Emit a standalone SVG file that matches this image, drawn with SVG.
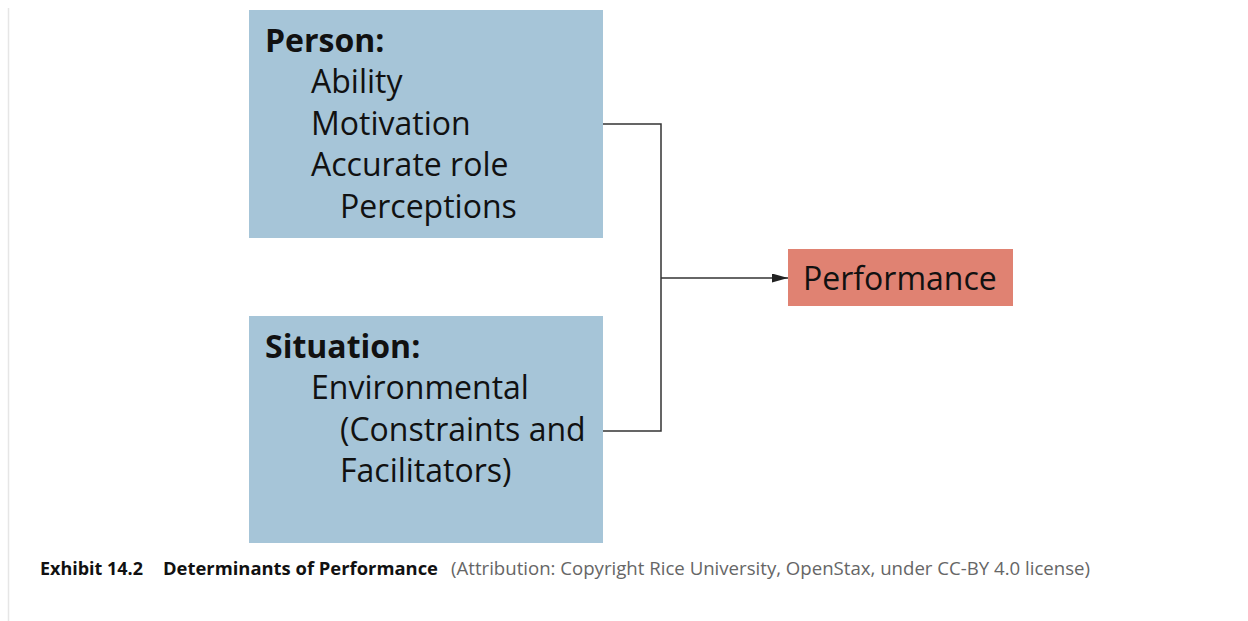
<svg xmlns="http://www.w3.org/2000/svg" width="1248" height="621" viewBox="0 0 1248 621">
<style>
.box{fill:#a6c5d8}
.perf{fill:#e08272}
.t{font-family:"Open Sans","Noto Sans",sans-serif;font-size:32px;fill:#111}
.b{font-weight:bold}
.cap{font-family:"Open Sans","Noto Sans",sans-serif;font-size:18px}
.capb{font-weight:bold;fill:#111}
.capg{fill:#666}
.conn{fill:none;stroke:#333;stroke-width:1.5}
</style>
<defs>
<marker id="arr" markerWidth="16" markerHeight="9" refX="16" refY="4.5" orient="auto" markerUnits="userSpaceOnUse">
<path d="M0,0 L16,4.5 L0,9 Z" fill="#222"/>
</marker>
</defs>
<rect width="1248" height="621" fill="#fff"/>
<line x1="8.5" y1="8" x2="8.5" y2="621" stroke="#e6e6e6" stroke-width="1.5"/>
<g id="person">
<rect class="box" x="249" y="10" width="354" height="228"/>
<text class="t b" x="265" y="52">Person:</text>
<text class="t" x="311" y="93">Ability</text>
<text class="t" x="311" y="135">Motivation</text>
<text class="t" x="311" y="176">Accurate role</text>
<text class="t" x="340" y="218">Perceptions</text>
</g>
<g id="situation">
<rect class="box" x="249" y="316" width="354" height="227"/>
<text class="t b" x="265" y="358">Situation:</text>
<text class="t" x="311" y="399">Environmental</text>
<text class="t" x="340" y="441">(Constraints and</text>
<text class="t" x="340" y="482">Facilitators)</text>
</g>
<g id="performance">
<rect class="perf" x="788" y="249" width="225" height="57"/>
<text class="t" x="803" y="290">Performance</text>
</g>
<g id="connectors">
<path class="conn" d="M603,124 H661 V431 H603"/>
<path class="conn" d="M661,278 H788" marker-end="url(#arr)"/>
</g>
<g id="caption">
<text class="cap capb" x="40" y="575" textLength="103" lengthAdjust="spacingAndGlyphs">Exhibit 14.2</text>
<text class="cap capb" x="163" y="575" textLength="275" lengthAdjust="spacingAndGlyphs">Determinants of Performance</text>
<text class="cap capg" x="451" y="575" textLength="639" lengthAdjust="spacingAndGlyphs">(Attribution: Copyright Rice University, OpenStax, under CC-BY 4.0 license)</text>
</g>
</svg>
